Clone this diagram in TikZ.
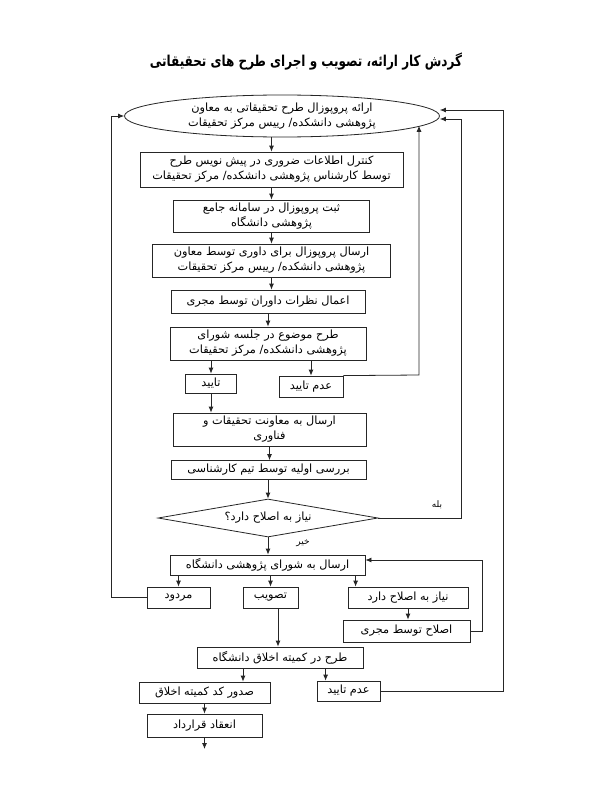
\documentclass[tikz,border=0pt]{standalone}
\usepackage{fontspec}
\newfontfamily\fa[Script=Arabic]{DejaVu Sans}
\newfontfamily\fatitle[Script=Arabic,FakeStretch=0.8]{DejaVu Sans Bold}
\TeXXeTstate=1
\usetikzlibrary{shapes.geometric,arrows.meta}
\newcommand{\mkrl}[1]{\beginR #1\endR}
\tikzset{
  box/.style={draw=black!85, line width=0.8pt, rectangle, inner sep=1pt, align=center,
    font=\fa\fontsize{11.3}{15}\selectfont},
  arr/.style={-{Latex[length=6pt,width=5pt]}, line width=0.8pt, draw=black!85},
  lin/.style={line width=0.8pt, draw=black!85},
  lbl/.style={font=\fa\fontsize{9}{10}\selectfont, inner sep=0pt}
}
\begin{document}
\begin{tikzpicture}[x=1pt,y=-1pt]
\useasboundingbox[fill=white] (0,0) rectangle (600,800);
\node[font=\fatitle\fontsize{15}{18}\selectfont] (title) at (306,62) {\mkrl{گردش کار ارائه، تصویب و اجرای طرح های تحقیقاتی}};

\node[box, ellipse, minimum width=315, minimum height=42, inner sep=0pt] (ell) at (282,116)
  {\mkrl{ارائه پروپوزال طرح تحقیقاتی به معاون}\\\mkrl{پژوهشی دانشکده/ رییس مرکز تحقیقات}};
\node[box, minimum width=263, minimum height=35] (b1) at (271.5,169.5)
  {\mkrl{کنترل اطلاعات ضروری در پیش نویس طرح}\\\mkrl{توسط کارشناس پژوهشی دانشکده/ مرکز تحقیقات}};
\node[box, minimum width=196, minimum height=32] (b2) at (271.5,216)
  {\mkrl{ثبت پروپوزال در سامانه جامع}\\\mkrl{پژوهشی دانشگاه}};
\node[box, minimum width=238, minimum height=33] (b3) at (271.5,260.5)
  {\mkrl{ارسال پروپوزال برای داوری توسط معاون}\\\mkrl{پژوهشی دانشکده/ رییس مرکز تحقیقات}};
\node[box, minimum width=194, minimum height=23] (b4) at (268,301.5)
  {\mkrl{اعمال نظرات داوران توسط مجری}};
\node[box, minimum width=196, minimum height=33] (b5) at (268,343.5)
  {\mkrl{طرح موضوع در جلسه شورای}\\\mkrl{پژوهشی دانشکده/ مرکز تحقیقات}};
\node[box, minimum width=51, minimum height=19] (tay) at (211,383.5) {\mkrl{تایید}};
\node[box, minimum width=64, minimum height=21] (adam1) at (311,386.5) {\mkrl{عدم تایید}};
\node[box, minimum width=193, minimum height=33] (b6) at (269.5,429.5)
  {\mkrl{ارسال به معاونت تحقیقات و}\\\mkrl{فناوری}};
\node[box, minimum width=195, minimum height=19] (b7) at (268.5,470)
  {\mkrl{بررسی اولیه توسط تیم کارشناسی}};
\node[box, diamond, minimum width=220, minimum height=38, aspect=5.8, inner sep=0pt] (dia) at (268,518)
  {\mkrl{نیاز به اصلاح دارد؟}};
\node[lbl] (bale) at (437,505) {\mkrl{بله}};
\node[lbl] (kheir) at (303,543) {\mkrl{خیر}};
\node[box, minimum width=195, minimum height=20] (b8) at (267.5,565)
  {\mkrl{ارسال به شورای پژوهشی دانشگاه}};
\node[box, minimum width=63, minimum height=21] (mard) at (178.5,597.5) {\mkrl{مردود}};
\node[box, minimum width=55, minimum height=21] (tasv) at (270.5,597.5) {\mkrl{تصویب}};
\node[box, minimum width=120, minimum height=21] (niaz) at (408,597.5) {\mkrl{نیاز به اصلاح دارد}};
\node[box, minimum width=127, minimum height=22] (esl) at (406.5,631) {\mkrl{اصلاح توسط مجری}};
\node[box, minimum width=166, minimum height=21] (b9) at (280,657.5) {\mkrl{طرح در کمیته اخلاق دانشگاه}};
\node[box, minimum width=131, minimum height=21] (sod) at (204.5,692.5) {\mkrl{صدور کد کمیته اخلاق}};
\node[box, minimum width=63, minimum height=20] (adam2) at (348.5,691) {\mkrl{عدم تایید}};
\node[box, minimum width=115, minimum height=23] (enq) at (204.5,725.5) {\mkrl{انعقاد قرارداد}};

% helper coordinates
\coordinate (endq) at (204.5,749);
\coordinate (nz) at ([xshift=8pt]niaz.north west);
\coordinate (tv) at ([xshift=7.5pt]tasv.south);
\coordinate (sx) at (243,0);
\coordinate (ax) at ([xshift=9pt]adam2.north west);
\coordinate (r1) at (482,560);
\coordinate (r2) at (503,110);
\coordinate (r3) at (461,119);
\coordinate (r4) at (419,375);
\coordinate (r5) at (111,116);

% main chain
\draw[arr] (b1.north |- ell.south) -- (b1.north);
\draw[arr] (b1.south) -- (b1.south |- b2.north);
\draw[arr] (b2.south) -- (b2.south |- b3.north);
\draw[arr] (b3.south) -- (b3.south |- b4.north);
\draw[arr] (b4.south) -- (b4.south |- b5.north);
\draw[arr] (tay.north |- b5.south) -- (tay.north);
\draw[arr] (adam1.north |- b5.south) -- (adam1.north);
\draw[arr] (tay.south) -- (tay.south |- b6.north);
\draw[arr] (b6.south) -- (b6.south |- b7.north);
\draw[arr] (dia.north |- b7.south) -- (dia.north);
\draw[arr] (dia.south) -- (dia.south |- b8.north);
\draw[arr] (mard.north |- b8.south) -- (mard.north);
\draw[arr] (tasv.north |- b8.south) -- (tasv.north);
\draw[arr] (nz |- b8.south) -- (nz);
\draw[arr] (niaz.south) -- (niaz.south |- esl.north);
\draw[arr] (tv) -- (tv |- b9.north);
\draw[arr] (sx |- b9.south) -- (sx |- sod.north);
\draw[arr] (ax |- b9.south) -- (ax);
\draw[arr] (sod.south) -- (sod.south |- enq.north);
\draw[arr] (enq.south) -- (endq);

% feedback loops
\draw[arr] (esl.east) -| (r1) -- (b8.east |- r1);
\draw[arr] (adam2.east) -| (r2) -- (ell.east |- r2);
\draw[arr] (dia.east) -| (r3) -- (ell.east |- r3);
\draw[arr] (adam1.north east) -- (r4) -- (r4 |- ell.-4.3);
\draw[arr] (mard.west) -| (r5) -- (ell.west);
\end{tikzpicture}
\end{document}
